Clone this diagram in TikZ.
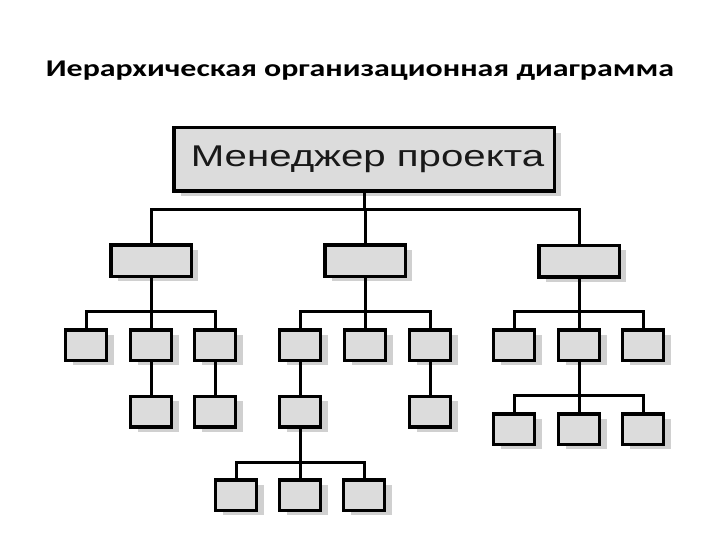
\documentclass[tikz,border=0pt]{standalone}
\usepackage{fontspec}
\setmainfont{Liberation Sans}
\newfontfamily\titlefont{Carlito}
\usetikzlibrary{shadows}
\definecolor{boxgray}{RGB}{220,220,220}
\definecolor{shadowgray}{RGB}{208,208,208}

\begin{document}
\begin{tikzpicture}[x=1pt,y=-1pt]
      \tikzstyle{box}=[draw=black,line width=3.5pt,fill=boxgray,inner sep=0pt,
        drop shadow={shadow xshift=7pt,shadow yshift=-5pt,fill=shadowgray,opacity=1}];
      \tikzstyle{bigbox}=[box,minimum width=80.5pt,minimum height=31.5pt];
      \tikzstyle{smallbox}=[box,minimum width=41pt,minimum height=30.5pt];
      \tikzstyle{link}=[line width=3pt];
      \useasboundingbox (0,0) rectangle (720,540);
      \node[anchor=base] (title) at (360,76.5) {\titlefont\fontsize{24}{28}\selectfont\bfseries
        \scalebox{1.33}[1]{Иерархическая организационная диаграмма}};

      \node[box,minimum width=380.5pt,minimum height=63.5pt] (pm) at (364,159.5)
        {\hspace{7pt}\fontsize{30}{36}\selectfont\color{black!90}\scalebox{1.34}[1]{Менеджер проекта}};

      % second level
      \node[bigbox] (g1) at (151,260.5) {};
      \node[bigbox] (g2) at (365,260.5) {};
      \node[bigbox] (g3) at (579,261) {};
      \foreach \g in {g1,g2,g3}
        \draw[link] (pm.south) -- ++(0,17) -| (\g.north);

      % left group
      \node[smallbox] (a1) at (86,345) {};
      \node[smallbox] (a2) at (151,345) {};
      \node[smallbox] (a3) at (215,345) {};
      \node[smallbox] (a4) at (151,411.5) {};
      \node[smallbox] (a5) at (215,411.5) {};
      \foreach \c in {a1,a2,a3}
        \draw[link] (g1.south) -- ++(0,33) -| (\c.north);
      \draw[link] (a2) -- (a4);
      \draw[link] (a3) -- (a5);

      % middle group
      \node[smallbox] (b1) at (300,345) {};
      \node[smallbox] (b2) at (365,345) {};
      \node[smallbox] (b3) at (430,345) {};
      \node[smallbox] (b4) at (300,411.5) {};
      \node[smallbox] (b5) at (430,411.5) {};
      \node[smallbox] (b6) at (236,495) {};
      \node[smallbox] (b7) at (300,495) {};
      \node[smallbox] (b8) at (364,495) {};
      \foreach \c in {b1,b2,b3}
        \draw[link] (g2.south) -- ++(0,33) -| (\c.north);
      \draw[link] (b1) -- (b4);
      \draw[link] (b3) -- (b5);
      \foreach \c in {b6,b7,b8}
        \draw[link] (b4.south) -- ++(0,34) -| (\c.north);

      % right group
      \node[smallbox] (c1) at (514,345) {};
      \node[smallbox] (c2) at (579,345) {};
      \node[smallbox] (c3) at (643,345) {};
      \node[smallbox] (c4) at (514,429) {};
      \node[smallbox] (c5) at (579,429) {};
      \node[smallbox] (c6) at (643,429) {};
      \foreach \c in {c1,c2,c3}
        \draw[link] (g3.south) -- ++(0,33) -| (\c.north);
      \foreach \c in {c4,c5,c6}
        \draw[link] (c2.south) -- ++(0,33) -| (\c.north);
\end{tikzpicture}
\end{document}
